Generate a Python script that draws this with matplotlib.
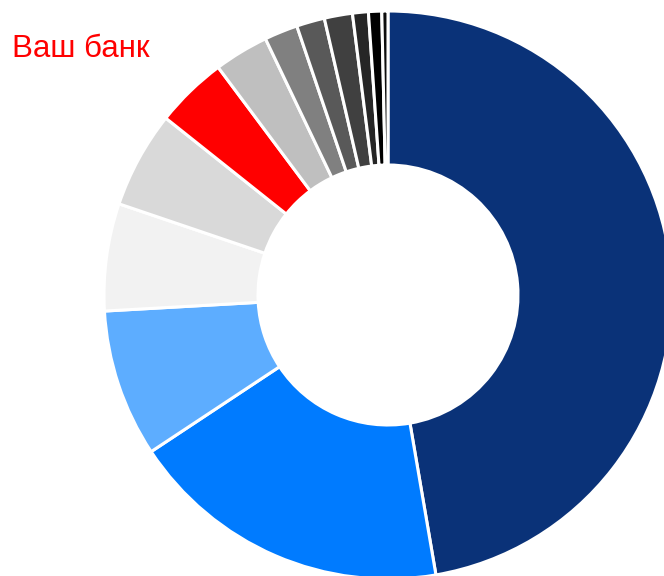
import matplotlib
matplotlib.use("Agg")
import matplotlib.pyplot as plt

labels = ["Bank 1", "Bank 2", "Bank 3", "Bank 4", "Bank 5", "Ваш банк", "Bank 7",
          "Bank 8", "Bank 9", "Bank 10", "Bank 11", "Bank 12", "Bank 13"]
shares = [47.3, 18.4, 8.4, 6.1, 5.5, 4.1, 3.1, 1.9, 1.6, 1.6, 0.9, 0.75, 0.35]
colors = ["#0A3278", "#007BFF", "#5DADFF", "#F2F2F2", "#D9D9D9", "#FF0000", "#BFBFBF",
          "#808080", "#595959", "#404040", "#262626", "#000000", "#0D0D0D"]

fig = plt.figure(figsize=(6.64, 5.76), dpi=100)
ax = fig.add_axes([0, 0, 1, 1])
ax.pie(shares, colors=colors, startangle=90, counterclock=False,
       center=(388, 576 - 295), radius=284,
       wedgeprops=dict(width=154, edgecolor="white", linewidth=2.2))
ax.set_xlim(0, 664)
ax.set_ylim(0, 576)
ax.set_aspect("equal")
ax.axis("off")
ax.text(12, 576 - 57, "Ваш банк", color="#FF0000", fontsize=22.5,
        family=["Liberation Sans", "DejaVu Sans"], ha="left", va="baseline")
fig.savefig("out.png", dpi=100)
